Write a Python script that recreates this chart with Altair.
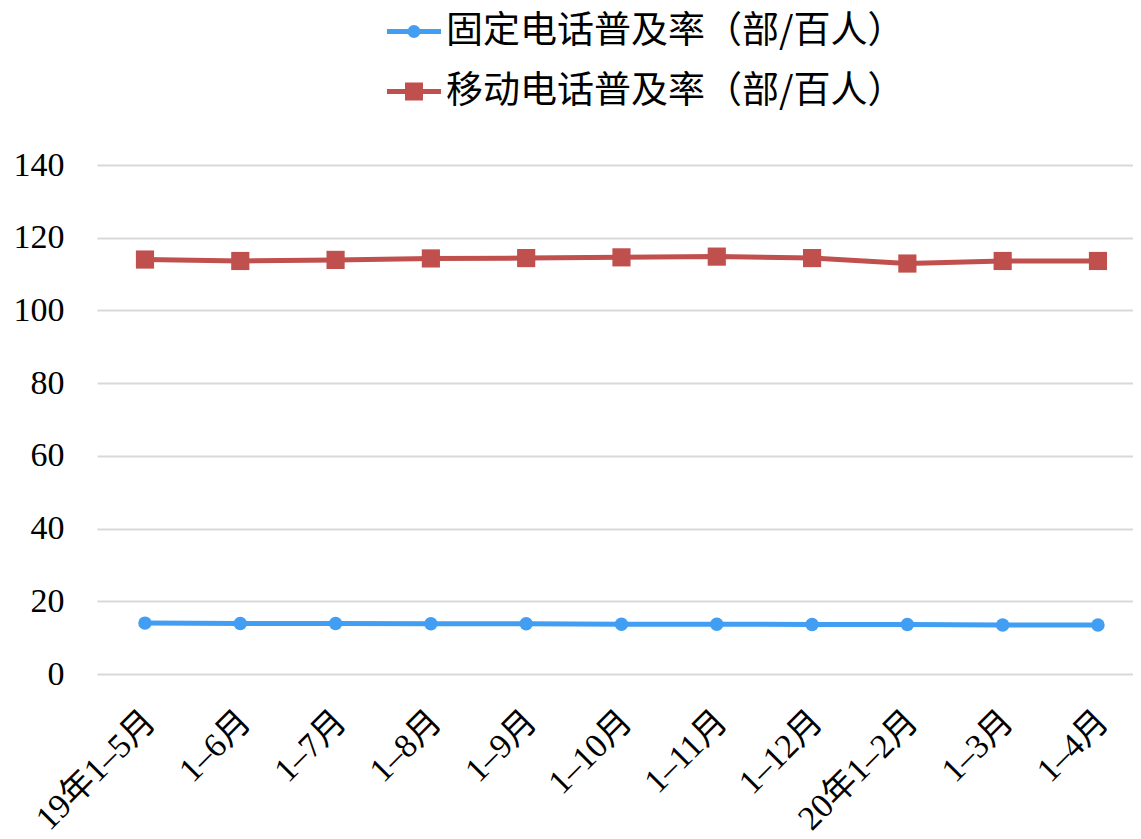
import altair as alt
import pandas as pd

periods = ["19年1–5月", "1–6月", "1–7月", "1–8月", "1–9月", "1–10月",
           "1–11月", "1–12月", "20年1–2月", "1–3月", "1–4月"]
series_fixed = "固定电话普及率（部/百人）"
series_mobile = "移动电话普及率（部/百人）"
fixed_values = [14.0, 13.9, 13.9, 13.8, 13.8, 13.7, 13.7, 13.6, 13.6, 13.5, 13.5]
mobile_values = [114.0, 113.6, 113.9, 114.3, 114.4, 114.6, 114.8, 114.4, 112.9, 113.6, 113.6]
y_ticks = [0, 20, 40, 60, 80, 100, 120, 140]

series_names = [series_fixed, series_mobile]
colors = ["#419EF2", "#C0504D"]

rows = []
for p, v in zip(periods, fixed_values):
    rows.append({"period": p, "series": series_fixed, "value": v})
for p, v in zip(periods, mobile_values):
    rows.append({"period": p, "series": series_mobile, "value": v})
df = pd.DataFrame(rows)

# legend glyphs: line segment with marker in the middle (unit = 13.5px)
circle_path = ("M-1,0L3,0"
               "M1.296,0A0.296,0.296 0 1,1 0.704,0A0.296,0.296 0 1,1 1.296,0Z"
               "M1.111,0A0.111,0.111 0 1,1 0.889,0A0.111,0.111 0 1,1 1.111,0Z")
square_path = ("M-1,0L3,0"
               "M0.52,-0.48L1.48,-0.48L1.48,0.48L0.52,0.48Z"
               "M0.815,-0.185L1.185,-0.185L1.185,0.185L0.815,0.185Z")

serif = "'Liberation Serif', 'Noto Sans CJK SC', serif"

x_enc = alt.X("period:N", sort=periods,
              scale=alt.Scale(type="point", padding=0.4355, align=0.578),
              axis=alt.Axis(title=None, labelAngle=-45, labelFont=serif,
                            labelFontSize=34, labelColor="#000000",
                            domain=False, ticks=False, grid=False,
                            labelPadding=30, labelOffset=-7))
y_enc = alt.Y("value:Q", scale=alt.Scale(domain=[0, 140], nice=False),
              axis=alt.Axis(title=None, values=y_ticks, labelFont=serif,
                            labelFontSize=34, labelColor="#000000",
                            domain=False, ticks=False, gridColor="#D9D9D9",
                            gridWidth=2, labelPadding=33))

def color_scale():
    return alt.Scale(domain=series_names, range=colors)

def legend_def():
    return alt.Legend(
        title=None, orient="none", legendX=285, legendY=-152,
        direction="vertical", labelFont="'Noto Sans CJK SC', sans-serif",
        labelFontSize=37, labelColor="#000000", labelLimit=0,
        labelOffset=27, rowPadding=22, symbolSize=729,
        symbolStrokeWidth=5, symbolOpacity=1)

lines = alt.Chart(df).mark_line(strokeWidth=5).encode(
    x=x_enc, y=y_enc,
    color=alt.Color("series:N", scale=color_scale(), legend=None))

points = alt.Chart(df).mark_point(filled=True, opacity=1).encode(
    x=x_enc, y=y_enc,
    color=alt.Color("series:N", scale=color_scale(), legend=None),
    shape=alt.Shape("series:N", scale=alt.Scale(domain=series_names, range=["circle", "square"]), legend=None),
    size=alt.Size("series:N", scale=alt.Scale(domain=series_names, range=[180, 330]), legend=None))

legend_layer = alt.Chart(df).transform_filter("false").mark_point(
    filled=False, strokeWidth=5, opacity=1).encode(
    x=x_enc, y=y_enc,
    color=alt.Color("series:N", scale=color_scale(), legend=legend_def()),
    shape=alt.Shape("series:N",
                    scale=alt.Scale(domain=series_names, range=[circle_path, square_path]),
                    legend=legend_def()))

chart = alt.layer(lines, points, legend_layer).resolve_scale(
    color="independent", shape="independent", size="independent"
).properties(
    width=1036, height=509,
    padding={"left": 5, "top": 5, "right": 0, "bottom": 0},
    background="#FFFFFF"
).configure_view(stroke=None)

chart.save("out.html", embed_options={"renderer": "svg", "actions": False})
